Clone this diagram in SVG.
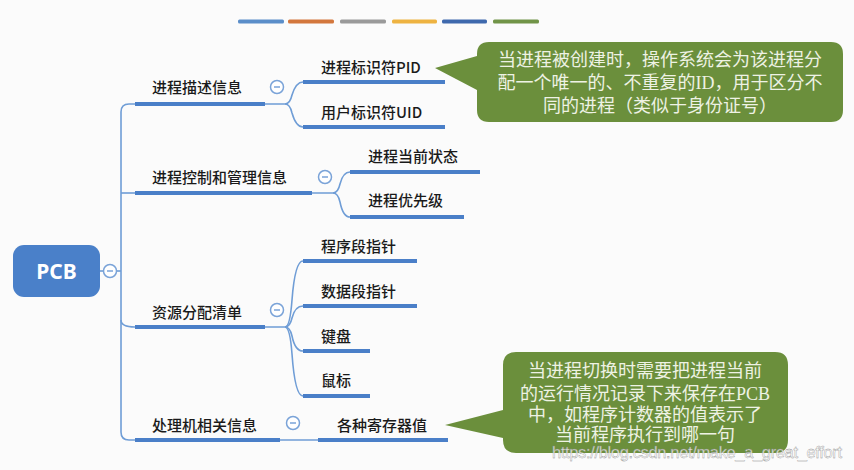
<svg xmlns="http://www.w3.org/2000/svg" width="854" height="470" viewBox="0 0 854 470">
<style>
.t{font-family:"Noto Sans CJK SC","Noto Sans",sans-serif;font-size:15px;font-weight:500;fill:#1a1a1a}
.u{stroke:#4a7fc8;stroke-width:4;stroke-linecap:butt;fill:none}
.c{stroke:#6f9dd6;stroke-width:1.6;fill:none}
.k{fill:#ffffff;stroke:#7aa3d8;stroke-width:1.5}
.km{stroke:#7aa3d8;stroke-width:1.5}
.ct{font-family:"Liberation Serif","Noto Sans CJK SC",serif;font-size:18px;fill:#eef2e4;text-anchor:middle}
.bub{fill:#6b8f3c}
</style>
<rect width="854" height="470" fill="#fbfbfb"/>
<g id="colorbars">
<rect x="238" y="19.5" width="46" height="4" rx="1.5" fill="#5b8ec9"/>
<rect x="288" y="19.5" width="46" height="4" rx="1.5" fill="#d3773d"/>
<rect x="340" y="19.5" width="46" height="4" rx="1.5" fill="#9a9a9a"/>
<rect x="392" y="19.5" width="45" height="4" rx="1.5" fill="#eeb341"/>
<rect x="442" y="19.5" width="45" height="4" rx="1.5" fill="#3f69ad"/>
<rect x="493" y="19.5" width="46" height="4" rx="1.5" fill="#719448"/>
</g>
<g id="connectors">
<path class="c" d="M100 271 H121"/>
<path class="c" d="M135 104 H129 Q121 104 121 112 V432 Q121 440 129 440 H135"/>
<path class="c" d="M121 193 Q121 193 135 193"/>
<path class="c" d="M121 320 Q121 327 135 327"/>
<path class="c" d="M265 104 H285 Q290 104 292 95 Q296 82 303 82"/>
<path class="c" d="M285 104 Q290 104 292 113 Q296 127 303 127"/>
<path class="c" d="M312 193 H333 Q338 193 340 184 Q343 172 350 172"/>
<path class="c" d="M333 193 Q338 193 340 202 Q343 217 350 217"/>
<path class="c" d="M265 327 H285 Q290 327 292 300 Q295 261 303 261"/>
<path class="c" d="M285 327 Q290 327 292 318 Q295 306 303 306"/>
<path class="c" d="M285 327 Q290 327 292 336 Q295 351 303 351"/>
<path class="c" d="M285 327 Q290 327 292 354 Q295 396 303 396"/>
<path class="c" d="M280 440 H318"/>
</g>
<g id="pcb">
<rect x="13" y="245" width="87" height="52" rx="11" fill="#4a80c9"/>
<text x="56.5" y="279" text-anchor="middle" font-family="Noto Sans, Liberation Sans, sans-serif" font-weight="bold" font-size="21" fill="#ffffff">PCB</text>
<circle class="k" cx="110" cy="271" r="6.5"/><line class="km" x1="107" y1="271" x2="113" y2="271"/>
</g>
<g id="n-desc">
<text class="t" x="152" y="93">进程描述信息</text>
<line class="u" x1="135" y1="104" x2="265" y2="104"/>
<circle class="k" cx="277" cy="87" r="6.5"/><line class="km" x1="274" y1="87" x2="280" y2="87"/>
</g>
<g id="n-pid">
<text class="t" x="321" y="73">进程标识符PID</text>
<line class="u" x1="303" y1="82" x2="445" y2="82"/>
</g>
<g id="n-uid">
<text class="t" x="321" y="118">用户标识符UID</text>
<line class="u" x1="303" y1="127" x2="445" y2="127"/>
</g>
<g id="n-ctrl">
<text class="t" x="152" y="183">进程控制和管理信息</text>
<line class="u" x1="135" y1="193" x2="312" y2="193"/>
<circle class="k" cx="325" cy="177" r="6.5"/><line class="km" x1="322" y1="177" x2="328" y2="177"/>
</g>
<g id="n-state">
<text class="t" x="368" y="162">进程当前状态</text>
<line class="u" x1="350" y1="172" x2="480" y2="172"/>
</g>
<g id="n-prio">
<text class="t" x="368" y="206">进程优先级</text>
<line class="u" x1="350" y1="217" x2="464" y2="217"/>
</g>
<g id="n-res">
<text class="t" x="152" y="318">资源分配清单</text>
<line class="u" x1="135" y1="327" x2="265" y2="327"/>
<circle class="k" cx="277" cy="310" r="6.5"/><line class="km" x1="274" y1="310" x2="280" y2="310"/>
</g>
<g id="n-code">
<text class="t" x="321" y="252">程序段指针</text>
<line class="u" x1="303" y1="261" x2="417" y2="261"/>
</g>
<g id="n-data">
<text class="t" x="321" y="297">数据段指针</text>
<line class="u" x1="303" y1="306" x2="417" y2="306"/>
</g>
<g id="n-kbd">
<text class="t" x="321" y="342">键盘</text>
<line class="u" x1="303" y1="351" x2="370" y2="351"/>
</g>
<g id="n-mouse">
<text class="t" x="321" y="386">鼠标</text>
<line class="u" x1="303" y1="396" x2="370" y2="396"/>
</g>
<g id="n-cpu">
<text class="t" x="152" y="431">处理机相关信息</text>
<line class="u" x1="135" y1="440" x2="280" y2="440"/>
<circle class="k" cx="293" cy="423" r="6.5"/><line class="km" x1="290" y1="423" x2="296" y2="423"/>
</g>
<g id="n-reg">
<text class="t" x="337" y="431">各种寄存器值</text>
<line class="u" x1="318" y1="440" x2="448" y2="440"/>
</g>
<g id="callout-pid">
<path class="bub" d="M489 42 H831 Q843 42 843 54 V110 Q843 122 831 122 H489 Q477 122 477 110 V90 L435 68 L477 56 V54 Q477 42 489 42 Z"/>
<text class="ct" x="660" y="66">当进程被创建时，操作系统会为该进程分</text>
<text class="ct" x="660" y="89">配一个唯一的、不重复的ID，用于区分不</text>
<text class="ct" x="660" y="112">同的进程（类似于身份证号）</text>
</g>
<g id="callout-reg">
<path class="bub" d="M516 352 H775 Q788 352 788 365 V440 Q788 453 775 453 H516 Q503 453 503 440 V438 L445 425 L503 410 V365 Q503 352 516 352 Z"/>
<text class="ct" x="645" y="377">当进程切换时需要把进程当前</text>
<text class="ct" x="645" y="400">的运行情况记录下来保存在PCB</text>
<text class="ct" x="645" y="421">中，如程序计数器的值表示了</text>
<text class="ct" x="645" y="441">当前程序执行到哪一句</text>
</g>
<text x="552" y="458" font-family="Liberation Sans, sans-serif" font-size="16.5" fill="#ffffff" fill-opacity="0.75" stroke="#8a8a8a" stroke-width="0.35" textLength="290">https://blog.csdn.net/make_a_great_effort</text>
</svg>
